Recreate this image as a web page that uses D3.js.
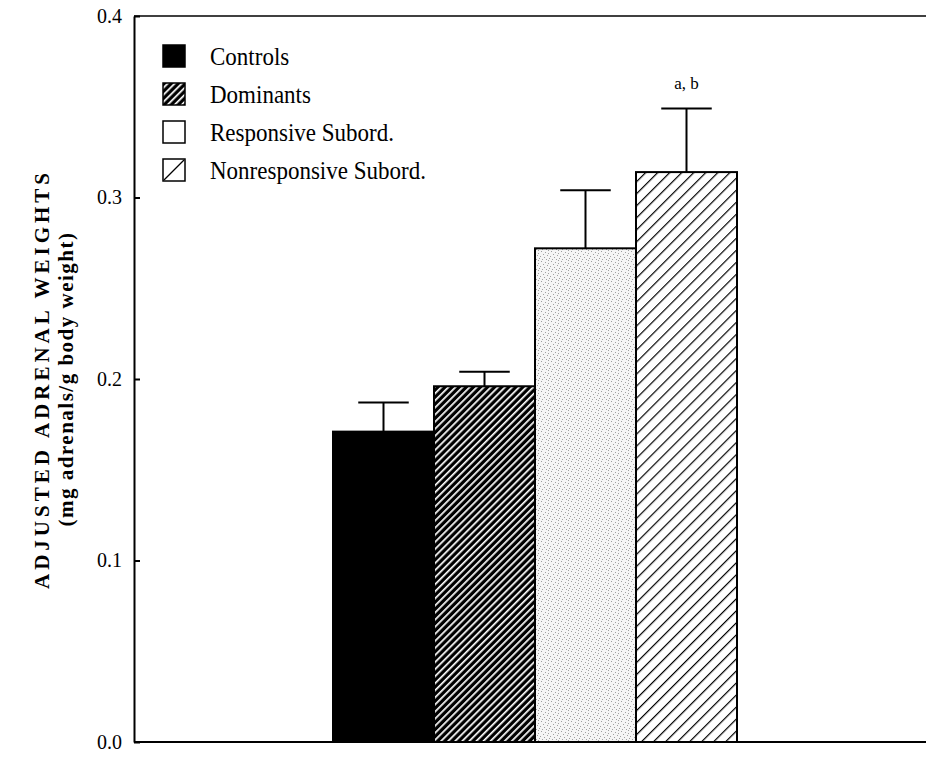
<!DOCTYPE html>
<html>
<head>
<meta charset="utf-8">
<script src="https://cdn.jsdelivr.net/npm/d3@7"></script>
<style>
  body { margin: 0; background: #fff; }
  text { font-family: "Liberation Serif", "DejaVu Serif", serif; fill: #000; }
</style>
</head>
<body>
<div id="chart"></div>
<script>
// values
const groups = ["Controls", "Dominants", "Responsive Subord.", "Nonresponsive Subord."]
const means = [0.171, 0.196, 0.272, 0.314]
const sems = [0.016, 0.008, 0.032, 0.035]
const notes = ["", "", "", "a, b"]
const yTicks = [0.0, 0.1, 0.2, 0.3, 0.4]
const fills = ["black", "dense", "stipple", "sparse"]

/* CONSTANTS */
const width = 926
const height = 758
const margin = { top: 16, bottom: 16, left: 134, right: 0 }
const barsLeft = 333, barsRight = 737

const data = groups.map((g, i) => ({ name: g, mean: means[i], sem: sems[i], note: notes[i], fill: fills[i] }))

const svg = d3.select("#chart").append("svg")
  .attr("width", width)
  .attr("height", height)

// PATTERNS
const defs = svg.append("defs")

// black with thin white diagonal lines
const dense = defs.append("pattern")
  .attr("id", "dense")
  .attr("patternUnits", "userSpaceOnUse")
  .attr("width", 5).attr("height", 5)
  .attr("patternTransform", "rotate(45)")
dense.append("rect").attr("width", 5).attr("height", 5).attr("fill", "black")
dense.append("rect").attr("x", 0).attr("width", 1.7).attr("height", 5).attr("fill", "white")

// white with thin black diagonal lines
const sparse = defs.append("pattern")
  .attr("id", "sparse")
  .attr("patternUnits", "userSpaceOnUse")
  .attr("width", 8.5).attr("height", 8.5)
  .attr("patternTransform", "rotate(45)")
sparse.append("rect").attr("width", 8.5).attr("height", 8.5).attr("fill", "white")
sparse.append("line").attr("x1", 0.6).attr("x2", 0.6).attr("y1", 0).attr("y2", 8.5)
  .attr("stroke", "black").attr("stroke-width", 1.2)

// stipple: fixed dot layout repeated
const stipple = defs.append("pattern")
  .attr("id", "stipple")
  .attr("patternUnits", "userSpaceOnUse")
  .attr("width", 10).attr("height", 10)
stipple.append("rect").attr("width", 10).attr("height", 10).attr("fill", "#f5f5f5")
const dots = [[1,1],[5,2],[8,0],[3,4],[7,5],[0,6],[4,7],[9,8],[2,9],[6,9],[8,3]]
stipple.selectAll("rect.dot").data(dots).join("rect")
  .attr("class", "dot")
  .attr("x", d => d[0]).attr("y", d => d[1])
  .attr("width", 1).attr("height", 1)
  .attr("fill", "#a0a0a0")

// SCALES
const yScale = d3.scaleLinear()
  .domain([0, 0.4])
  .range([height - margin.bottom, margin.top])

const xScale = d3.scaleBand()
  .domain(groups)
  .range([barsLeft, barsRight])
  .padding(0)

const fillFor = f => f === "black" ? "black" : `url(#${f})`

// BARS
svg.selectAll(".bar")
  .data(data)
  .join("rect")
  .attr("class", "bar")
  .attr("x", d => xScale(d.name))
  .attr("y", d => yScale(d.mean))
  .attr("width", xScale.bandwidth())
  .attr("height", d => yScale(0) - yScale(d.mean))
  .attr("fill", d => fillFor(d.fill))
  .attr("stroke", "black")
  .attr("stroke-width", 2)

// ERROR BARS (upper only)
const err = svg.selectAll(".err")
  .data(data)
  .join("g")
  .attr("class", "err")
  .attr("transform", d => `translate(${xScale(d.name) + xScale.bandwidth() / 2},0)`)
err.append("line")
  .attr("y1", d => yScale(d.mean)).attr("y2", d => yScale(d.mean + d.sem))
  .attr("stroke", "black").attr("stroke-width", 2)
err.append("line")
  .attr("x1", -xScale.bandwidth() / 4).attr("x2", xScale.bandwidth() / 4)
  .attr("y1", d => yScale(d.mean + d.sem)).attr("y2", d => yScale(d.mean + d.sem))
  .attr("stroke", "black").attr("stroke-width", 2)
err.append("text")
  .attr("y", d => yScale(d.mean + d.sem) - 20)
  .attr("text-anchor", "middle")
  .style("font-size", "17px")
  .text(d => d.note)

// AXES
const yAxis = d3.axisLeft(yScale)
  .tickValues(yTicks)
  .tickFormat(d3.format(".1f"))
  .tickSizeInner(-6)
  .tickSizeOuter(0)
  .tickPadding(12)

const yAxisGroup = svg.append("g")
  .attr("transform", `translate(${margin.left},0)`)
  .call(yAxis)
yAxisGroup.select(".domain").attr("stroke-width", 2)
yAxisGroup.selectAll(".tick line").attr("stroke-width", 2)
yAxisGroup.selectAll("text")
  .style("font-size", "20px")
  .style("font-family", "'Liberation Serif', serif")

// bottom axis line and top frame line
svg.append("line")
  .attr("x1", margin.left).attr("x2", width - margin.right)
  .attr("y1", yScale(0)).attr("y2", yScale(0))
  .attr("stroke", "black").attr("stroke-width", 2)
svg.append("line")
  .attr("x1", margin.left).attr("x2", width - margin.right)
  .attr("y1", yScale(0.4)).attr("y2", yScale(0.4))
  .attr("stroke", "black").attr("stroke-width", 1.5)

// Y LABEL
const yMid = (yScale(0) + yScale(0.4)) / 2
svg.append("text")
  .attr("transform", `translate(49,${yMid}) rotate(-90)`)
  .attr("text-anchor", "middle")
  .style("font-size", "21px")
  .style("font-weight", "bold")
  .style("letter-spacing", "4px")
  .text("ADJUSTED ADRENAL WEIGHTS")
svg.append("text")
  .attr("transform", `translate(73,${yMid}) rotate(-90)`)
  .attr("text-anchor", "middle")
  .style("font-size", "21px")
  .style("font-weight", "bold")
  .style("letter-spacing", "1.5px")
  .text("(mg adrenals/g body weight)")

// LEGEND
const legend = svg.selectAll(".legend")
  .data(data)
  .join("g")
  .attr("class", "legend")
  .attr("transform", (d, i) => `translate(163,${56 + i * 38})`)
legend.append("rect")
  .attr("x", 0).attr("y", -11)
  .attr("width", 22).attr("height", 22)
  .attr("fill", d => (d.fill === "stipple" || d.fill === "sparse") ? "white" : fillFor(d.fill))
  .attr("stroke", "black").attr("stroke-width", 1.5)
legend.filter(d => d.fill === "sparse").append("line")
  .attr("x1", 1).attr("y1", 10).attr("x2", 21).attr("y2", -10)
  .attr("stroke", "black").attr("stroke-width", 1.2)
legend.append("text")
  .attr("transform", "translate(47,0) scale(0.92,1)")
  .attr("dy", "0.35em")
  .style("font-size", "25px")
  .text(d => d.name)
</script>
</body>
</html>
